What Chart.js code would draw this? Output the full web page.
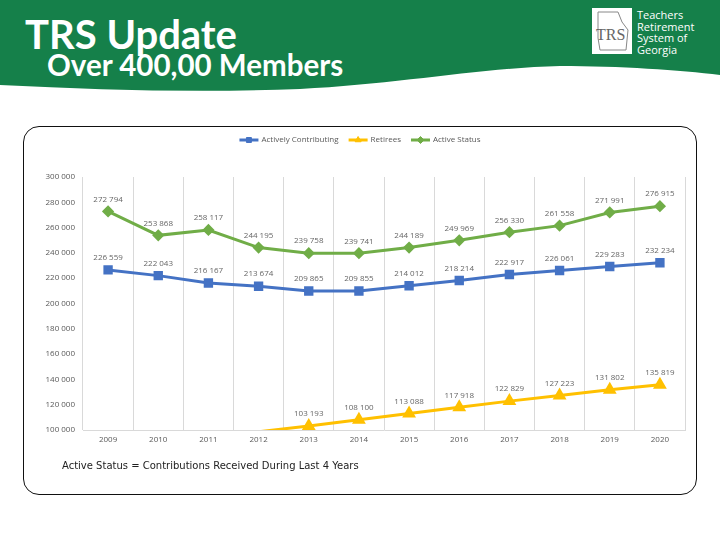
<!DOCTYPE html>
<html><head><meta charset="utf-8">
<script src="https://cdn.jsdelivr.net/npm/chart.js@4/dist/chart.umd.min.js"></script>
<style>
html,body{margin:0;padding:0;background:#fff;}
body{width:720px;height:540px;position:relative;overflow:hidden;font-family:Lato,"Open Sans",sans-serif;}
#hdr{position:absolute;left:0;top:0;}
#t1{position:absolute;left:25px;top:10px;color:#fff;font:700 40px Lato,sans-serif;}
#t2{position:absolute;left:47px;top:47px;color:#fff;font:700 29.5px Lato,sans-serif;}
#logo{position:absolute;left:592px;top:8px;width:40px;height:46px;background:#fff;}
#logotxt{position:absolute;left:637px;top:9px;color:#fff;font:400 11px "Open Sans",sans-serif;line-height:11.5px;}
#box{position:absolute;left:23px;top:126px;width:672px;height:367px;border:1.5px solid #111;border-radius:16px;}
#cv{position:absolute;left:24px;top:127px;}
#note{position:absolute;left:62px;top:460px;font:400 10px "DejaVu Sans",sans-serif;color:#222;}
</style></head>
<body>
<svg id="hdr" width="720" height="100">
<path d="M0,0 H720 V75 C680,70 620,66 560,66 C480,68 400,84 300,89 C200,93 100,90 0,85 Z" fill="#15804a"/>
</svg>
<div id="t1">TRS Update</div>
<div id="t2">Over 400,00 Members</div>
<div id="logo"><svg width="40" height="46"><path d="M6,4 L26,4 L30,14 L36,22 L34,42 L8,42 L6,30 Z" fill="none" stroke="#888" stroke-width="1"/><text x="4" y="32" font-family="Liberation Serif" font-size="16" fill="#666">TRS</text></svg></div>
<div id="logotxt">Teachers<br>Retirement<br>System of<br>Georgia</div>
<div id="box"></div>
<canvas id="cv" width="672" height="368"></canvas>
<div id="note">Active Status = Contributions Received During Last 4 Years</div>
<script>
const years = ["2009","2010","2011","2012","2013","2014","2015","2016","2017","2018","2019","2020"];
const activelyContributing = [226559,222043,216167,213674,209865,209855,214012,218214,222917,226061,229283,232234];
const retirees = [null,null,null,98600,103193,108100,113088,117918,122829,127223,131802,135819];
const activeStatus = [272794,253868,258117,244195,239758,239741,244189,249969,256330,261558,271991,276915];

const fmt = v => String(v).replace(/\B(?=(\d{3})+(?!\d))/g, ' ');

const labelPlugin = {
  id:'dl',
  afterDatasetsDraw(chart){
    const ctx = chart.ctx, yMin = chart.scales.y.min;
    ctx.save();
    ctx.font = '8px "Open Sans", sans-serif';
    ctx.fillStyle = '#666';
    ctx.textAlign = 'center';
    ctx.textBaseline = 'bottom';
    chart.data.datasets.forEach((ds,i)=>{
      const meta = chart.getDatasetMeta(i);
      meta.data.forEach((pt,j)=>{
        const v = ds.data[j];
        if (v==null || v < yMin) return;
        ctx.fillText(fmt(v), pt.x, pt.y - 8);
      });
    });
    ctx.restore();
  }
};

const legendPlugin = {
  id:'lg',
  afterDraw(chart){
    const ctx = chart.ctx;
    ctx.save();
    ctx.font = '8px "Open Sans", sans-serif';
    ctx.textBaseline = 'middle';
    const items = chart.data.datasets.map(d=>({t:d.label,c:d.borderColor,s:d.pointStyle}));
    const sw = 19, gap = 3, sp = 10;
    let total = 0;
    items.forEach(it=>{ it.w = ctx.measureText(it.t).width; total += sw+gap+it.w; });
    total += sp*(items.length-1);
    let x = 336 - total/2; const y = 13;
    items.forEach(it=>{
      ctx.strokeStyle = it.c; ctx.lineWidth = 3;
      ctx.beginPath(); ctx.moveTo(x,y); ctx.lineTo(x+sw,y); ctx.stroke();
      ctx.fillStyle = it.c; ctx.lineWidth = 1;
      Chart.helpers.drawPoint(ctx,{pointStyle:it.s,radius:3.5,rotation:0,borderWidth:1},x+sw/2,y);
      ctx.fillStyle = '#595959';
      ctx.fillText(it.t, x+sw+gap, y);
      x += sw+gap+it.w+sp;
    });
    ctx.restore();
  }
};

const hideBelow = r => c => (c.raw != null && c.raw < 100000) ? 0 : r;

new Chart(document.getElementById('cv'), {
  type:'line',
  data:{
    labels: years,
    datasets:[
      {label:'Actively Contributing', data:activelyContributing, borderColor:'#4472c4', backgroundColor:'#4472c4', pointStyle:'rect', pointRadius:4.5, borderWidth:3, clip:0},
      {label:'Retirees', data:retirees, borderColor:'#ffc000', backgroundColor:'#ffc000', pointStyle:'triangle', pointRadius:hideBelow(5), borderWidth:3, clip:0},
      {label:'Active Status', data:activeStatus, borderColor:'#70ad47', backgroundColor:'#70ad47', pointStyle:'rectRot', pointRadius:4, borderWidth:3, clip:0}
    ]
  },
  options:{
    responsive:false, animation:false, devicePixelRatio:1,
    layout:{padding:{left:0,top:50,right:11,bottom:45}},
    plugins:{legend:{display:false}, tooltip:{enabled:false}},
    elements:{line:{tension:0}, point:{borderWidth:1}},
    scales:{
      x:{
        offset:true,
        grid:{display:true, offset:true, color:'#d9d9d9', lineWidth:1, drawTicks:false},
        border:{display:true,color:'#d9d9d9'},
        ticks:{color:'#595959', font:{size:8, family:'"Open Sans", sans-serif'}, padding:5, maxRotation:0},
        afterFit(s){ s.height = 20; }
      },
      y:{
        min:100000, max:300000,
        grid:{display:false, drawTicks:false},
        border:{display:false},
        ticks:{stepSize:20000, color:'#595959', padding:8, font:{size:8, family:'"Open Sans", sans-serif'}, callback:v=>fmt(v)},
        afterFit(s){ s.width = 59; }
      }
    }
  },
  plugins:[labelPlugin, legendPlugin]
});
</script>
</body></html>
